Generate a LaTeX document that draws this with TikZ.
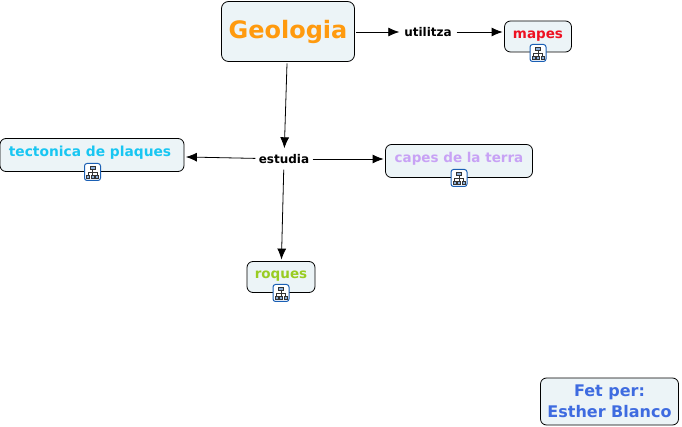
\documentclass[tikz,border=0pt]{standalone}
\usepackage{fontspec}
\setmainfont{DejaVu Sans}
\usetikzlibrary{arrows.meta}
\definecolor{boxfill}{HTML}{ECF4F7}
\definecolor{geo}{HTML}{FF9A0E}
\definecolor{map}{HTML}{EE1122}
\definecolor{tec}{HTML}{18C6F2}
\definecolor{cap}{HTML}{C8A2F5}
\definecolor{roq}{HTML}{99CC22}
\definecolor{fet}{HTML}{3E6BE0}
\definecolor{ico}{HTML}{1A5FB4}
\tikzset{
  concept/.style={draw=black,fill=boxfill,rounded corners=6pt,line width=0.8pt,inner xsep=0pt,inner ysep=0pt,font=\bfseries,align=center},
  linker/.style={font=\bfseries\fontsize{12}{14}\selectfont,inner sep=0pt,minimum width=54pt,minimum height=18pt},
  link/.style={line width=0.8pt,shorten >=1.5pt,shorten <=1.5pt,-{Latex[length=11pt,width=9pt]}},
  iconbox/.style={draw=ico,fill=white,rounded corners=2.5pt,line width=1pt,minimum width=16pt,minimum height=17pt,inner sep=0pt},
  tree/.style={line width=0.7pt,draw=black!80,fill=ico!50}
}
\newcommand{\mapicon}[2]{%
  \node[iconbox] (#2) at (#1) {};
  \begin{scope}[shift={(#1)}]
    \draw[line width=0.7pt,black!80] (0,-3)--(0,4) (-4.5,3)--(-4.5,0.5)--(4.5,0.5)--(4.5,3);
    \draw[tree] (-2.5,-6) rectangle (2.5,-3);
    \draw[tree] (-6,3) rectangle (-3,6);
    \draw[tree] (-1.5,3) rectangle (1.5,6);
    \draw[tree] (3,3) rectangle (6,6);
  \end{scope}}
\begin{document}
\begin{tikzpicture}[x=1pt,y=-1pt]
\useasboundingbox (0,0) rectangle (682,427);
\node[concept,rounded corners=7pt,minimum width=133pt,text height=37pt,text depth=23pt,text=geo,font=\bfseries\fontsize{24}{28}\selectfont] (geologia) at (288,31.5) {Geologia};
\node[concept,minimum width=67pt,text height=18pt,text depth=13pt,text=map,font=\bfseries\fontsize{13.5}{16}\selectfont] (mapes) at (538,36.5) {mapes};
\node[concept,minimum width=184pt,text height=18pt,text depth=15pt,text=tec,font=\bfseries\fontsize{13.8}{16}\selectfont] (tectonica) at (92,155) {tectonica de plaques\hspace*{4pt}};
\node[concept,minimum width=147pt,text height=18pt,text depth=15pt,text=cap,font=\bfseries\fontsize{13.5}{16}\selectfont] (capes) at (459,161) {capes de la terra};
\node[concept,minimum width=68pt,text height=17pt,text depth=14pt,text=roq,font=\bfseries\fontsize{13.5}{16}\selectfont] (roques) at (281,277) {roques};
\node[concept,minimum width=138pt,minimum height=47pt,text=fet,font=\bfseries\fontsize{16}{21}\selectfont] (fetper) at (609.5,401.5) {Fet per:\\Esther Blanco};
\node[linker] (utilitza) at (428,32) {utilitza};
\node[linker] (estudia) at (284,159) {estudia};
\draw[link] (geologia.east |- utilitza) -- (utilitza);
\draw[link] (utilitza) -- (utilitza -| mapes.west);
\draw[link] (geologia) -- (estudia);
\draw[link] (estudia) -- (tectonica);
\draw[link] (estudia) -- (estudia -| capes.west);
\draw[link] (estudia) -- (roques);
\mapicon{538,53}{iconmapes}
\mapicon{92.5,172}{icontec}
\mapicon{459,178}{iconcapes}
\mapicon{281,293}{iconroques}
\end{tikzpicture}
\end{document}
